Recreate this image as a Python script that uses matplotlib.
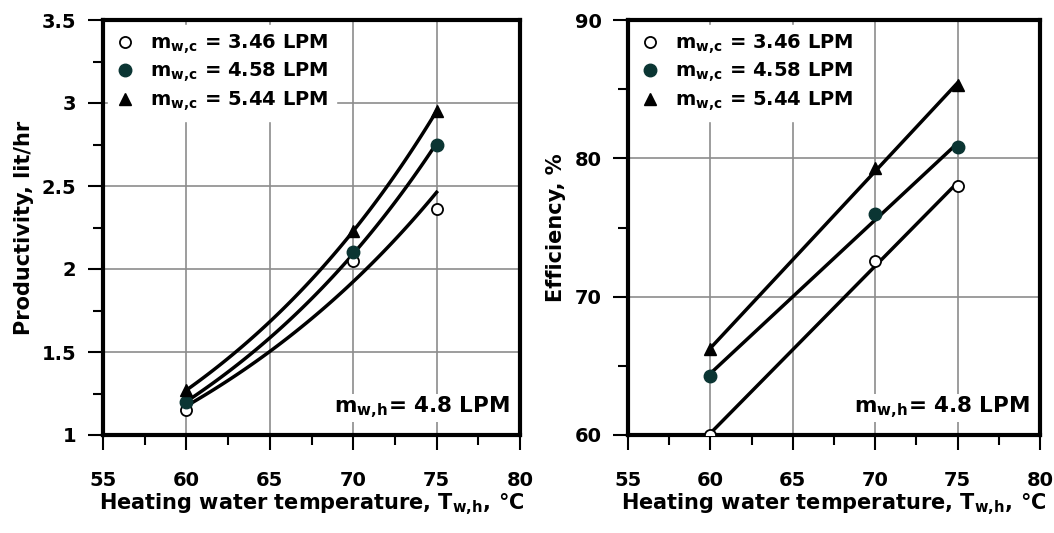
import numpy as np
import matplotlib
matplotlib.use("Agg")
import matplotlib.pyplot as plt
from matplotlib.ticker import MultipleLocator, FuncFormatter

plt.rcParams['font.family'] = ['DejaVu Sans']
plt.rcParams['font.weight'] = 'bold'
plt.rcParams['mathtext.fontset'] = 'custom'
plt.rcParams['mathtext.rm'] = 'DejaVu Sans:bold'
plt.rcParams['mathtext.it'] = 'DejaVu Sans:bold'
plt.rcParams['mathtext.bf'] = 'DejaVu Sans:bold'
plt.rcParams['mathtext.default'] = 'rm'

temps = [60, 70, 75]
labels = [r'$m_{w,\!c}$ = 3.46 LPM', r'$m_{w,\!c}$ = 4.58 LPM', r'$m_{w,\!c}$ = 5.44 LPM']
prod_346 = [1.15, 2.05, 2.36]
prod_458 = [1.20, 2.10, 2.75]
prod_544 = [1.27, 2.23, 2.95]
eff_346 = [60.0, 72.6, 78.0]
eff_458 = [64.3, 76.0, 80.8]
eff_544 = [66.2, 79.3, 85.3]

markers = [dict(marker='o', mfc='white', mec='black', ms=8, mew=1.3),
           dict(marker='o', mfc='#0b3533', mec='#0b3533', ms=9, mew=1),
           dict(marker='^', mfc='black', mec='black', ms=9, mew=1)]

fig = plt.figure(figsize=(10.54, 5.33), dpi=100)
ax1 = fig.add_axes([103/1054, 1-435/533, 417/1054, 415/533])
ax2 = fig.add_axes([628/1054, 1-435/533, 412/1054, 415/533])

x = np.array(temps, dtype=float)
xs = np.linspace(60, 75, 100)


def fmt(v, p):
    return '%g' % v


def style(ax, ylim, ymaj, ymin, ylabel):
    ax.set_xlim(55, 80)
    ax.set_ylim(*ylim)
    ax.xaxis.set_major_locator(MultipleLocator(5))
    ax.xaxis.set_minor_locator(MultipleLocator(2.5))
    ax.yaxis.set_major_locator(MultipleLocator(ymaj))
    ax.yaxis.set_minor_locator(MultipleLocator(ymin))
    ax.grid(True, which='major', color='#8c8c8c', lw=1.2, zorder=0)
    for s in ax.spines.values():
        s.set_linewidth(3)
    ax.tick_params(axis='x', which='major', length=11, width=1.5, pad=15, labelsize=14)
    ax.tick_params(axis='x', which='minor', length=7, width=1.5)
    ax.tick_params(axis='y', which='major', length=11, width=1.5, pad=8, labelsize=14)
    ax.tick_params(axis='y', which='minor', length=7, width=1.5)
    ax.yaxis.set_major_formatter(FuncFormatter(fmt))
    ax.set_xlabel(r'Heating water temperature, $T_{w,\!h}$, °C', fontsize=15, fontweight='bold', labelpad=1)
    ax.set_ylabel(ylabel, fontsize=15, fontweight='bold', labelpad=6)


style(ax1, (1, 3.5), 0.5, 0.25, 'Productivity, lit/hr')
style(ax2, (60, 90), 10, 5, 'Efficiency, %')

for ys, mk, lab in zip([prod_346, prod_458, prod_544], markers, labels):
    y = np.array(ys)
    b, a = np.polyfit(x, np.log(y), 1)
    ax1.plot(xs, np.exp(a + b * xs), color='black', lw=2.5, zorder=3)
    ax1.plot(x, y, ls='none', zorder=4, label=lab, **mk)

for ys, mk, lab in zip([eff_346, eff_458, eff_544], markers, labels):
    y = np.array(ys)
    b, a = np.polyfit(x, y, 1)
    ax2.plot(xs, a + b * xs, color='black', lw=2.5, zorder=3)
    ax2.plot(x, y, ls='none', zorder=4, label=lab, **mk)

for ax in (ax1, ax2):
    leg = ax.legend(loc='upper left', frameon=True, fontsize=14, handletextpad=0.75,
                    borderaxespad=0.25, labelspacing=0.27, handlelength=1.0,
                    borderpad=0.4)
    leg.get_frame().set_facecolor('white')
    leg.get_frame().set_edgecolor('white')
    leg.get_frame().set_alpha(1)
    leg.get_frame().set_boxstyle('square', pad=0)
    ax.text(0.975, 0.035, r'$m_{w,\!h}$= 4.8 LPM', transform=ax.transAxes, ha='right',
            va='bottom', fontsize=15.5, fontweight='bold', zorder=5,
            bbox=dict(facecolor='white', edgecolor='none', pad=1))

fig.savefig('out.png', dpi=100)
